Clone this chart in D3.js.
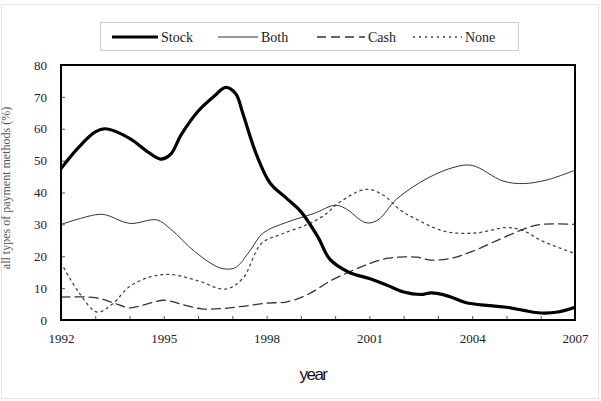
<!DOCTYPE html>
<html><head><meta charset="utf-8">
<script src="https://cdn.jsdelivr.net/npm/d3@7"></script>
<style>body{margin:0;background:#fff}svg{display:block}</style>
</head><body>
<svg id="c" width="601" height="401"></svg>
<script>
const seriesNames = ["Stock", "Both", "Cash", "None"];
const yTicks = [0, 10, 20, 30, 40, 50, 60, 70, 80];
const xTickLabels = [1992, 1995, 1998, 2001, 2004, 2007];

const stockYears = [1992,1992.5,1993,1993.3,1994,1994.5,1994.9,1995.2,1995.5,1996,1996.5,1996.8,1997.1,1997.3,1997.7,1998.1,1998.6,1999,1999.5,1999.85,2000.4,2001,2001.5,2002,2002.5,2002.8,2003.3,2003.8,2004.5,2005,2005.5,2006,2006.5,2007];
const stockVals  = [47.5,54,59,60,57,53,50.5,52,58,65.5,70.5,73,71,65,52,43,38,34,26,19,15,13,11,8.8,8,8.5,7.5,5.5,4.5,4,3,2.2,2.5,4];

const bothYears = [1992,1993,1993.3,1994,1994.8,1995.2,1995.9,1996.5,1996.8,1997.1,1997.5,1997.9,1998.6,1999.4,2000,2000.3,2000.9,2001.25,2001.8,2002.7,2003.5,2004,2004.9,2005.5,2006.2,2007];
const bothVals  = [30,33,33,30.3,31.4,28.5,21.5,17,16,16.5,21.5,27.3,30.7,33.5,36,35,30.5,31.4,38,44.5,48,48.5,43.6,42.8,44,47];

const cashYears = [1992,1993,1993.5,1994,1994.5,1995,1995.5,1996.1,1996.7,1997.3,1998,1998.6,1999.2,1999.9,2000.5,2000.9,2001.5,2002,2002.4,2002.8,2003.4,2004,2004.7,2005.5,2006,2007];
const cashVals  = [7.2,7,5.5,3.8,5,6.2,5,3.5,3.6,4.3,5.3,5.7,8,12.5,15.5,17.3,19.3,19.8,19.7,18.8,19.4,21.5,24.8,28.5,30,30];

const noneYears = [1992,1992.5,1993.05,1993.5,1994,1994.6,1995.2,1996,1996.8,1997.3,1997.85,1998.45,1999.2,1999.7,2000.14,2000.9,2001.4,2001.9,2002.3,2003.2,2004.1,2005,2005.5,2006,2007];
const noneVals  = [18,9,2.5,5,10.5,13.5,14.3,12.3,9.7,13,24,27,30,33,37,41,39.2,34.5,32,27.8,27.3,29,28,25,20.8];

const svg = d3.select("#c");
const L = 61, R = 575, T = 65, B = 320;
const x = d3.scaleLinear().domain([1992, 2007]).range([L, R]);
const y = d3.scaleLinear().domain([0, 80]).range([B, T]);

// faint outer frame
svg.append("rect").attr("x",1.5).attr("y",4.5).attr("width",597).attr("height",394)
  .attr("fill","none").attr("stroke","#e6e6e6").attr("stroke-width",1);

const serif = "Liberation Serif, Times New Roman, serif";

// axes with inner ticks
const yAxis = d3.axisLeft(y).tickValues(yTicks).tickSize(-4).tickPadding(14).tickFormat(d3.format("d"));
const gy = svg.append("g").attr("transform",`translate(${L},0)`).call(yAxis);
gy.attr("font-family", serif);
gy.select(".domain").remove();
gy.selectAll("text").style("font-family",serif).attr("font-size",13).attr("fill","#222");
gy.selectAll("line").attr("stroke","#555");

const xAxis = d3.axisBottom(x).tickValues(d3.range(1992, 2008)).tickSize(-4).tickPadding(14)
  .tickFormat(d => xTickLabels.includes(d) ? d : "");
const gx = svg.append("g").attr("transform",`translate(0,${B})`).call(xAxis);
gx.attr("font-family", serif);
gx.select(".domain").remove();
gx.selectAll("text").style("font-family",serif).attr("font-size",13).attr("fill","#222");
gx.selectAll("line").attr("stroke","#555");

const mk = (ys, vs) => ys.map((d, i) => [d, vs[i]]);
const line = d3.line().x(d => x(d[0])).y(d => y(d[1])).curve(d3.curveCatmullRom.alpha(0.5));

const styles = [
  {name:"Stock", data: mk(stockYears, stockVals), w:3.2, dash:null, color:"#000"},
  {name:"Both",  data: mk(bothYears, bothVals),   w:1,   dash:null, color:"#333"},
  {name:"Cash",  data: mk(cashYears, cashVals),   w:1.3, dash:"9,5", color:"#333"},
  {name:"None",  data: mk(noneYears, noneVals),   w:1.3, dash:"2,4", color:"#444"}
];
svg.append("clipPath").attr("id","pc").append("rect")
  .attr("x",L).attr("y",T).attr("width",R-L).attr("height",B-T);
[3,2,1,0].forEach(i => {
  const s = styles[i];
  svg.append("path").attr("clip-path","url(#pc)").attr("d", line(s.data)).attr("fill","none")
    .attr("stroke", s.color).attr("stroke-width", s.w).attr("stroke-dasharray", s.dash)
    .attr("stroke-linejoin","round").attr("stroke-linecap","round");
});

// plot frame
svg.append("rect").attr("x",L).attr("y",T).attr("width",R-L).attr("height",B-T)
  .attr("fill","none").attr("stroke","#000").attr("stroke-width",2);

// legend
const lg = svg.append("g");
lg.append("rect").attr("x",100.5).attr("y",22.5).attr("width",418).attr("height",28)
  .attr("fill","#fff").attr("stroke","#ccc").attr("stroke-width",1);
const legX = [112, 218, 317, 413];
const legLen = [46, 40, 48, 49];
styles.forEach((s, i) => {
  lg.append("line").attr("x1",legX[i]).attr("x2",legX[i]+legLen[i]).attr("y1",37).attr("y2",37)
    .attr("stroke", s.color).attr("stroke-width", s.w).attr("stroke-dasharray", s.dash);
  lg.append("text").attr("x",legX[i]+legLen[i]+3).attr("y",42).text(seriesNames[i])
    .style("font-family",serif).attr("font-size",14).attr("fill","#222");
});

// axis titles
svg.append("text").attr("x",313).attr("y",380).attr("text-anchor","middle")
  .style("font-family","Liberation Sans, Arial, sans-serif").attr("font-size",17)
  .attr("letter-spacing",-1.5).attr("fill","#111").text("year");
svg.append("text").attr("transform","translate(10,188) rotate(-90)").attr("text-anchor","middle")
  .style("font-family",serif).attr("font-size",12).attr("fill","#555")
  .text("all types of payment methods (%)");
</script>
</body></html>
